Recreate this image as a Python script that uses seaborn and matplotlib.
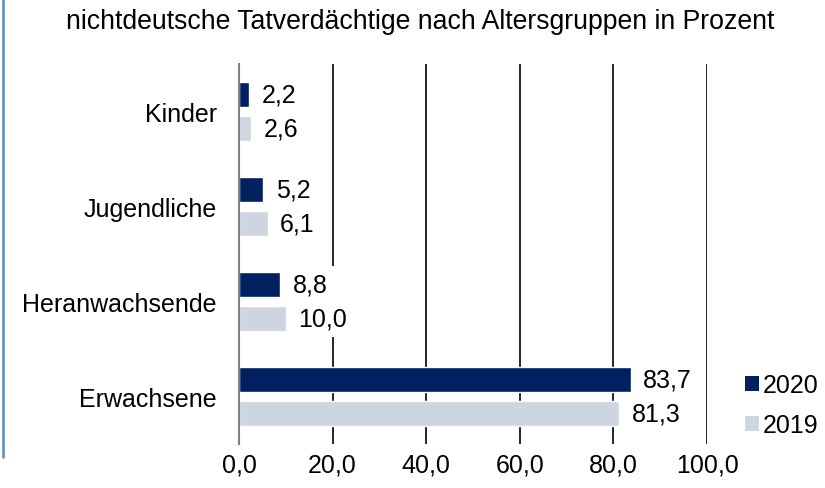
import matplotlib
matplotlib.use("Agg")
import matplotlib.pyplot as plt
from matplotlib.lines import Line2D
from matplotlib.patches import Patch
import seaborn as sns
import pandas as pd

categories = ["Kinder", "Jugendliche", "Heranwachsende", "Erwachsene"]
years = ["2020", "2019"]
values_2020 = [2.2, 5.2, 8.8, 83.7]
values_2019 = [2.6, 6.1, 10.0, 81.3]
x_ticks = [0, 20, 40, 60, 80, 100]
title = "nichtdeutsche Tatverdächtige nach Altersgruppen in Prozent"
colors = {"2020": "#002060", "2019": "#CDD5E0"}

df = pd.DataFrame({
    "Kategorie": categories * 2,
    "Jahr": ["2020"] * 4 + ["2019"] * 4,
    "Wert": values_2020 + values_2019,
})

sns.set_style("white")
plt.rcParams["font.family"] = ["Liberation Sans", "DejaVu Sans"]
plt.rcParams["text.color"] = "#000000"
plt.rcParams["xtick.color"] = "#000000"
plt.rcParams["ytick.color"] = "#000000"

fig = plt.figure(figsize=(8.25, 4.89), dpi=100)
ax = fig.add_axes([239 / 825, 1 - 445 / 489, 468 / 825, 380 / 489])

sns.barplot(data=df, y="Kategorie", x="Wert", hue="Jahr", order=categories,
            hue_order=years, palette=colors, orient="h", width=0.71, gap=0.26,
            saturation=1, ax=ax, legend=False)

def fmt(v):
    return f"{v:.1f}".replace(".", ",")

for cont, vals in zip(ax.containers, [values_2020, values_2019]):
    ax.bar_label(cont, labels=[fmt(v) for v in vals], padding=9, fontsize=18,
                 color="#000000",
                 bbox=dict(facecolor="white", edgecolor="none", pad=5))

ax.set_xlim(0, 100)
ax.set_xticks(x_ticks)
ax.set_xticklabels([fmt(v) for v in x_ticks], fontsize=18)
ax.set_ylabel("")
ax.set_xlabel("")
ax.tick_params(axis="y", length=0, pad=16, labelsize=18, labelcolor="#000000")
ax.tick_params(axis="x", length=0, pad=6, labelcolor="#000000")
ax.grid(axis="x", color="#000000", linewidth=1.2)
ax.grid(axis="y", visible=False)
ax.set_axisbelow(True)
for s in ["top", "right", "bottom"]:
    ax.spines[s].set_visible(False)
ax.spines["left"].set_color("#808080")
ax.spines["left"].set_linewidth(1.5)
ax.spines["left"].set_zorder(5)

handles = [Patch(facecolor=colors[y], edgecolor="none", label=y) for y in years]
fig.legend(handles=handles, loc="center left",
           bbox_to_anchor=(745 / 825, 1 - 406 / 489), frameon=False,
           fontsize=18, handlelength=0.55, handleheight=0.55,
           handletextpad=0.15, labelspacing=0.65, borderpad=0, borderaxespad=0,
           labelcolor="#000000")

fig.text(420 / 825, 1 - 22 / 489, title, ha="center", va="center", fontsize=19.2,
         color="#000000")

fig.add_artist(Line2D([3 / 825, 3 / 825], [1 - 458 / 489, 1], color="#5B8BC8",
                      linewidth=1.8, transform=fig.transFigure))

fig.savefig("out.png", dpi=100)
